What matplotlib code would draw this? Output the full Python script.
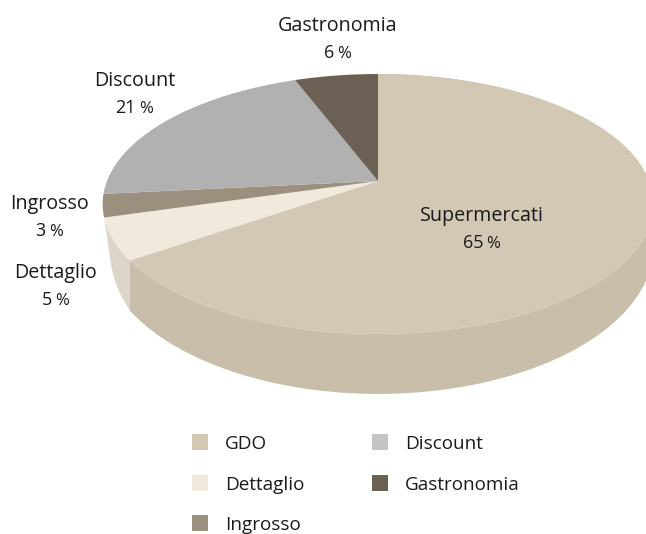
import numpy as np
import matplotlib
matplotlib.use("Agg")
import matplotlib.pyplot as plt
from matplotlib.patches import Rectangle

plt.rcParams["font.family"] = ["Open Sans", "DejaVu Sans"]

# slices, clockwise from 12 o'clock
labels = ["Supermercati", "Dettaglio", "Ingrosso", "Discount", "Gastronomia"]
values = [65.4, 5.15, 2.85, 20.8, 5.8]
top_colours = ["#d3c8b4", "#f2e9dd", "#9b8f7e", "#b1b1b1", "#6a6053"]
side_colours = ["#c9bea9", "#dcd6ca"]

legend_names = ["GDO", "Dettaglio", "Ingrosso", "Discount", "Gastronomia"]
legend_colours = ["#d3c8b4", "#f2e9dd", "#9b8f7e", "#c4c4c4", "#6a6053"]

# pixel geometry of the tilted disc
cx, cy = 378, 181
a, b, k = 271, 125.9, 0.177
depth = 40.6


def project(theta, drop=False):
    # theta clockwise from the far side of the disc
    u = np.sin(theta)
    v = np.cos(theta)
    w = 1 + k * v
    x = cx + a * u / w
    y = cy - b * v / w
    if drop:
        y = y + depth / w**2
        x = x + 0.25 * np.maximum(0, 130 - x)
    return x, y


fig = plt.figure(figsize=(6.46, 5.34), dpi=100, facecolor="w")
ax = fig.add_axes([0, 0, 1, 1])
ax.set_xlim(0, 646)
ax.set_ylim(534, 0)
ax.axis("off")

edges = np.cumsum([0] + values) / sum(values) * 2 * np.pi

# walls, only the two front slices show one
for i in [1, 0]:
    t = np.linspace(edges[i], edges[i + 1], 300)
    x1, y1 = project(t)
    x2, y2 = project(t[::-1], drop=True)
    ax.fill(np.r_[x1, x2], np.r_[y1, y2], color=side_colours[i], lw=0, zorder=2)

# top face
for i in range(len(values)):
    t = np.linspace(edges[i], edges[i + 1], 300)
    x1, y1 = project(t)
    ax.fill(np.r_[cx, x1], np.r_[cy, y1], color=top_colours[i], lw=0, zorder=3)


def pct_label(x, y, name, val):
    # y is the baseline of the name, the number sits one line lower
    ax.text(x, y, name, ha="center", va="baseline", fontsize=14.2, color="#1a1a1a", zorder=5)
    split = x + (3 if val > 9 else -2)
    ax.text(split - 1.5, y + 27, str(val), ha="right", va="baseline", fontsize=13, color="#1a1a1a", zorder=5)
    ax.text(split + 1.5, y + 27, "%", ha="left", va="baseline", fontsize=12, color="#1a1a1a", zorder=5)


label_pos = [(482, 221), (56, 278), (49.5, 209), (134.5, 86), (337.5, 31)]
for pos, name, val in zip(label_pos, labels, values):
    pct_label(pos[0], pos[1], name, round(val))

# legend
legend_xy = [(192, 434), (192, 475), (192, 515), (372, 434), (372, 475)]
for (x, y), name, col in zip(legend_xy, legend_names, legend_colours):
    ax.add_patch(Rectangle((x, y), 16, 16, color=col, lw=0))
    ax.text(x + 33, y + 15, name, ha="left", va="baseline", fontsize=13.6, color="#1a1a1a")

plt.savefig("out.png", dpi=100)
